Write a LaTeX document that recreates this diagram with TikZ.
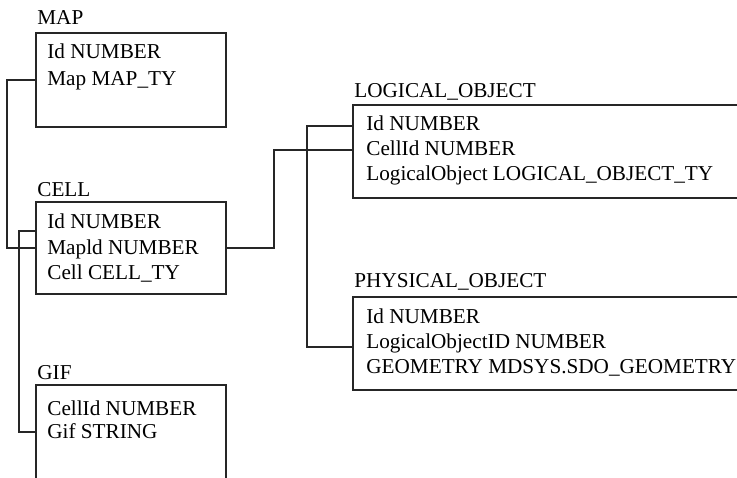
\documentclass[tikz,border=0pt]{standalone}
\usepackage{fontspec}
\setmainfont{Liberation Serif}
\begin{document}
\begin{tikzpicture}[x=0.5pt,y=-0.5pt,
  tbox/.style={draw=black!85,line width=0.75pt,inner sep=0pt,outer sep=0pt,anchor=north west},
  title/.style={anchor=base west,inner sep=0pt,font=\fontsize{10.6}{12}\selectfont},
  row/.style={anchor=base west,inner sep=0pt,font=\fontsize{10.6}{12}\selectfont},
  link/.style={draw=black!85,line width=0.6pt}]
\useasboundingbox (0,0) rectangle (737,477);
\clip (0,0) rectangle (737,477);
% MAP
\node[title] (maptitle) at (37,24) {MAP};
\node[tbox,minimum width=95pt,minimum height=47pt] (mapbox) at (36,33) {};
\node[row] (map1) at (47,58) {Id NUMBER};
\node[row] (map2) at (47,85) {Map MAP\_TY};
% CELL
\node[title] (celltitle) at (37,196) {CELL};
\node[tbox,minimum width=95pt,minimum height=46pt] (cellbox) at (36,202) {};
\node[row] (cell1) at (47,228) {Id NUMBER};
\node[row] (cell2) at (47,254) {Mapld NUMBER};
\node[row] (cell3) at (47,279) {Cell CELL\_TY};
% GIF
\node[title] (giftitle) at (37,379) {GIF};
\node[tbox,minimum width=95pt,minimum height=60pt] (gifbox) at (36,385) {};
\node[row] (gif1) at (47,415) {CellId NUMBER};
\node[row] (gif2) at (47,438) {Gif STRING};
% LOGICAL_OBJECT
\node[title] (logtitle) at (354,97) {LOGICAL\_OBJECT};
\node[tbox,minimum width=196pt,minimum height=46.5pt] (logbox) at (353,105) {};
\node[row] (log1) at (366,130) {Id NUMBER};
\node[row] (log2) at (366,155) {CellId NUMBER};
\node[row] (log3) at (366,180) {LogicalObject LOGICAL\_OBJECT\_TY};
% PHYSICAL_OBJECT
\node[title] (phytitle) at (354,287) {PHYSICAL\_OBJECT};
\node[tbox,minimum width=196pt,minimum height=46.5pt] (phybox) at (353,297) {};
\node[row] (phy1) at (366,323) {Id NUMBER};
\node[row] (phy2) at (366,348) {LogicalObjectID NUMBER};
\node[row] (phy3) at (366,373) {GEOMETRY MDSYS.SDO\_GEOMETRY};
% connectors
\coordinate (mapj) at (7,80);
\coordinate (cellj) at (19,231);
\coordinate (cellr) at (274,248);
\coordinate (logj) at (307,126);
\draw[link] (mapbox.west |- mapj) -- (mapj) |- (cellbox.west |- 0,248);
\draw[link] (cellbox.west |- cellj) -- (cellj) |- (gifbox.west |- 0,432);
\draw[link] (cellbox.east |- cellr) -- (cellr) |- (logbox.west |- 0,150);
\draw[link] (logbox.west |- logj) -- (logj) |- (phybox.west |- 0,347);
\end{tikzpicture}
\end{document}
